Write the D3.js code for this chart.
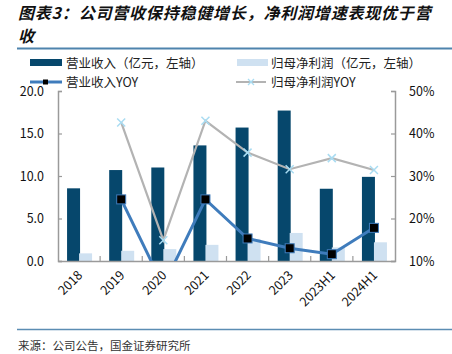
<!DOCTYPE html>
<html lang="zh">
<head>
<meta charset="UTF-8">
<style>
  body { margin: 0; background: #fff; }
  text { font-family: "Noto Sans CJK SC", "Liberation Sans", sans-serif; }
</style>
</head>
<body>
<div class="canvas"></div>
<script src="https://cdnjs.cloudflare.com/ajax/libs/d3/7.8.5/d3.min.js"></script>
<script>
// data
const categories = ['2018', '2019', '2020', '2021', '2022', '2023', '2023H1', '2024H1'];
const revenue = [8.55, 10.7, 11.0, 13.6, 15.7, 17.7, 8.5, 9.9];
const netProfit = [0.9, 1.2, 1.4, 1.9, 2.6, 3.3, 1.6, 2.2];
const revenueYoy = [null, 24.5, 4.1, 24.5, 15.3, 13.0, 11.6, 17.8];
const profitYoy = [null, 42.6, 14.9, 43.0, 35.5, 31.6, 34.2, 31.4];
const leftTicks = [0, 5, 10, 15, 20];
const rightTicks = [10, 20, 30, 40, 50];

const W = 452, H = 354;
const svg = d3.select('.canvas')
  .append('svg')
    .attr('width', W)
    .attr('height', H);

// title
const title = svg.append('g')
  .attr('font-weight', 'bold')
  .attr('font-style', 'italic')
  .attr('font-size', 16)
  .attr('fill', '#111');
title.append('text').attr('x', 18).attr('y', 19).attr('letter-spacing', 0.8)
  .text('图表3：公司营收保持稳健增长，净利润增速表现优于营');
title.append('text').attr('x', 18).attr('y', 42).text('收');

svg.append('line').attr('x1', 17).attr('x2', W).attr('y1', 48.5).attr('y2', 48.5)
  .attr('stroke', '#4f84ad').attr('stroke-width', 2);

// plot area
const pLeft = 58, pRight = 395, pTop = 91, pBottom = 261;

const x = d3.scaleBand()
  .domain(categories)
  .range([pLeft, pRight]);

const y = d3.scaleLinear().domain([0, 20]).range([pBottom, pTop]);
const y2 = d3.scaleLinear().domain([10, 50]).range([pBottom, pTop]);

const barW = 13;

// bars
svg.append('g').selectAll('rect')
  .data(categories)
  .enter().append('rect')
    .attr('x', d => x(d) + x.bandwidth() / 2 - barW + 1)
    .attr('y', (d, i) => y(revenue[i]))
    .attr('width', barW)
    .attr('height', (d, i) => pBottom - y(revenue[i]))
    .attr('fill', '#06476c');

svg.append('g').selectAll('rect')
  .data(categories)
  .enter().append('rect')
    .attr('x', d => x(d) + x.bandwidth() / 2)
    .attr('y', (d, i) => y(netProfit[i]))
    .attr('width', barW)
    .attr('height', (d, i) => pBottom - y(netProfit[i]))
    .attr('fill', '#cfe1f1');

// axes
const axisColor = '#9a9a9a';

const xAxis = d3.axisBottom(x).tickSize(0).tickFormat('');
const xAxisGroup = svg.append('g')
  .attr('transform', `translate(0, ${pBottom})`)
  .call(xAxis);
xAxisGroup.select('.domain').attr('stroke', axisColor).attr('stroke-width', 1.5);

// band-boundary ticks pointing up
svg.append('g').selectAll('line')
  .data(categories.slice(1))
  .enter().append('line')
    .attr('x1', d => x(d)).attr('x2', d => x(d))
    .attr('y1', pBottom).attr('y2', pBottom - 5)
    .attr('stroke', axisColor).attr('stroke-width', 1.2);

svg.append('g').selectAll('text')
  .data(categories)
  .enter().append('text')
    .attr('transform', d => `translate(${x(d) + x.bandwidth() / 2 - 2}, ${pBottom + 9}) rotate(-45)`)
    .attr('text-anchor', 'end')
    .attr('dy', '0.7em')
    .attr('font-family', '"Liberation Sans", Arial, sans-serif')
    .attr('font-size', 12.5)
    .attr('fill', '#111')
    .text(d => d);

const yAxis = d3.axisLeft(y).tickValues(leftTicks).tickSize(-4).tickPadding(14)
  .tickFormat(d3.format('.1f'));
const yAxisGroup = svg.append('g')
  .attr('transform', `translate(${pLeft}, 0)`)
  .call(yAxis);

const yAxis2 = d3.axisRight(y2).tickValues(rightTicks).tickSize(-4).tickPadding(14)
  .tickFormat(d => d + '%');
const yAxisGroup2 = svg.append('g')
  .attr('transform', `translate(${pRight}, 0)`)
  .call(yAxis2);

[yAxisGroup, yAxisGroup2].forEach(g => {
  g.select('.domain').attr('stroke', axisColor).attr('stroke-width', 1.5);
  g.selectAll('.tick line').attr('stroke', axisColor).attr('stroke-width', 1.2);
  g.selectAll('text')
    .attr('font-family', '"Liberation Sans", Arial, sans-serif')
    .attr('font-size', 12.5)
    .attr('fill', '#111');
});

// lines (clipped to plot area)
svg.append('clipPath').attr('id', 'plotClip')
  .append('rect').attr('x', pLeft).attr('y', pTop - 10)
  .attr('width', pRight - pLeft).attr('height', pBottom - pTop + 10);

const cx = d => x(d) + x.bandwidth() / 2;
const lineGen = vals => d3.line()
  .defined((d, i) => vals[i] != null)
  .x(d => cx(d))
  .y((d, i) => y2(vals[i]));

const lines = svg.append('g').attr('clip-path', 'url(#plotClip)');

lines.append('path')
  .attr('d', lineGen(profitYoy)(categories))
  .attr('fill', 'none')
  .attr('stroke', '#b3b3b3')
  .attr('stroke-width', 2.2);

lines.append('path')
  .attr('d', lineGen(revenueYoy)(categories))
  .attr('fill', 'none')
  .attr('stroke', '#3f7cbc')
  .attr('stroke-width', 3);

const crossSize = 4;
lines.selectAll('.cross')
  .data(categories.filter((d, i) => profitYoy[i] != null))
  .enter().append('path')
    .attr('class', 'cross')
    .attr('d', d => {
      const px = cx(d), py = y2(profitYoy[categories.indexOf(d)]);
      return `M${px - crossSize},${py - crossSize}L${px + crossSize},${py + crossSize}` +
             `M${px - crossSize},${py + crossSize}L${px + crossSize},${py - crossSize}`;
    })
    .attr('stroke', '#a9dcf2')
    .attr('stroke-width', 1.5);

lines.selectAll('.sq')
  .data(categories.filter((d, i) => revenueYoy[i] != null))
  .enter().append('rect')
    .attr('class', 'sq')
    .attr('x', d => cx(d) - 4.5)
    .attr('y', d => y2(revenueYoy[categories.indexOf(d)]) - 4.5)
    .attr('width', 9)
    .attr('height', 9)
    .attr('fill', '#000')
    .attr('stroke', '#3f7cbc')
    .attr('stroke-width', 1);

// legend
const legend = svg.append('g').attr('font-size', 12.5).attr('fill', '#222');
legend.append('rect').attr('x', 30).attr('y', 59).attr('width', 32).attr('height', 7).attr('fill', '#06476c');
legend.append('text').attr('x', 66).attr('y', 67.5).text('营业收入（亿元，左轴）');
legend.append('rect').attr('x', 237).attr('y', 59).attr('width', 31).attr('height', 7).attr('fill', '#cfe1f1');
legend.append('text').attr('x', 271).attr('y', 67.5).text('归母净利润（亿元，左轴）');

legend.append('line').attr('x1', 30).attr('x2', 62).attr('y1', 82).attr('y2', 82)
  .attr('stroke', '#3f7cbc').attr('stroke-width', 3);
legend.append('rect').attr('x', 43).attr('y', 79.5).attr('width', 5).attr('height', 5).attr('fill', '#000');
legend.append('text').attr('x', 66).attr('y', 87).text('营业收入YOY');

legend.append('line').attr('x1', 236).attr('x2', 266).attr('y1', 82).attr('y2', 82)
  .attr('stroke', '#b3b3b3').attr('stroke-width', 2);
legend.append('path').attr('d', 'M248,79L254,85M248,85L254,79')
  .attr('stroke', '#a9dcf2').attr('stroke-width', 1.3);
legend.append('text').attr('x', 271).attr('y', 87).text('归母净利润YOY');

// footer
svg.append('line').attr('x1', 17).attr('x2', W).attr('y1', 329.5).attr('y2', 329.5)
  .attr('stroke', '#5b8db3').attr('stroke-width', 1.5);
svg.append('text').attr('x', 18).attr('y', 350)
  .attr('font-size', 11.5).attr('fill', '#333')
  .text('来源：公司公告，国金证券研究所');
</script>
</body>
</html>
